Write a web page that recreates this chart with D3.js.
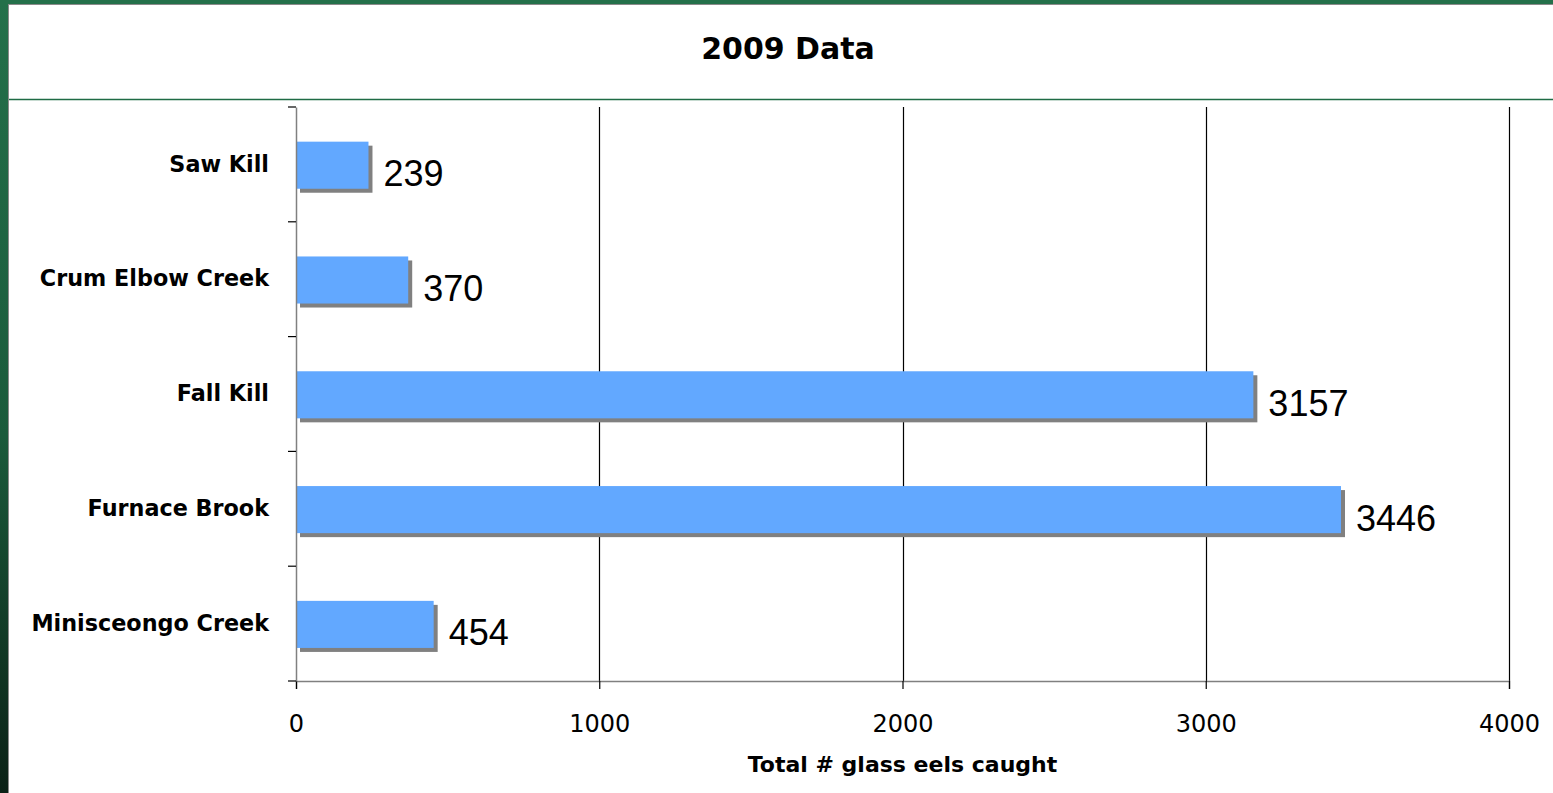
<!DOCTYPE html>
<html>
<head>
<meta charset="utf-8">
<script src="https://cdn.jsdelivr.net/npm/d3@7"></script>
<style>
  body { margin: 0; background: #fff; }
  svg { display: block; }
</style>
</head>
<body>
<div class="chart"></div>
<script>
var svgWidth = 1553;
var svgHeight = 793;

// chart data
var categories = ["Saw Kill", "Crum Elbow Creek", "Fall Kill", "Furnace Brook", "Minisceongo Creek"];
var counts = [239, 370, 3157, 3446, 454];
var xTicks = [0, 1000, 2000, 3000, 4000];

var plot = { left: 296, right: 1509, top: 107, bottom: 681 };

var svg = d3.select(".chart")
  .append("svg")
  .attr("width", svgWidth)
  .attr("height", svgHeight);

// green frame, darker towards the bottom
var defs = svg.append("defs");
var grad = defs.append("linearGradient")
  .attr("id", "frameGrad")
  .attr("x1", 0).attr("y1", 0).attr("x2", 0).attr("y2", 1);
grad.append("stop").attr("offset", "0%").attr("stop-color", "#24704a");
grad.append("stop").attr("offset", "55%").attr("stop-color", "#1b5a3b");
grad.append("stop").attr("offset", "100%").attr("stop-color", "#0b2116");

svg.append("rect")
  .attr("width", svgWidth).attr("height", svgHeight)
  .attr("fill", "url(#frameGrad)");
svg.append("rect")
  .attr("x", 0).attr("y", 0).attr("width", svgWidth).attr("height", 5)
  .attr("fill", "#24704a");

// white chart area with thin grey edge
svg.append("rect")
  .attr("x", 8).attr("y", 4)
  .attr("width", svgWidth - 8).attr("height", svgHeight - 4)
  .attr("fill", "#8a8a8a");
svg.append("rect")
  .attr("x", 9).attr("y", 5)
  .attr("width", svgWidth - 9).attr("height", svgHeight - 5)
  .attr("fill", "#fff");

// title box line
svg.append("line")
  .attr("x1", 9).attr("x2", svgWidth)
  .attr("y1", 99.5).attr("y2", 99.5)
  .attr("stroke", "#1f6b45")
  .attr("stroke-width", 1.5);

svg.append("text")
  .attr("x", 788)
  .attr("y", 59)
  .attr("text-anchor", "middle")
  .style("font-family", "'DejaVu Sans', Verdana, sans-serif")
  .style("font-weight", "bold")
  .style("font-size", "30px")
  .attr("fill", "#000")
  .text("2009 Data");

// scales
var xScale = d3.scaleLinear()
  .domain([0, 4000])
  .range([plot.left, plot.right]);

var yScale = d3.scaleBand()
  .domain(categories)
  .range([plot.top, plot.bottom])
  .paddingInner(0)
  .paddingOuter(0);

var barHeight = yScale.bandwidth() * 0.41;
var barOffset = (yScale.bandwidth() - barHeight) / 2 + 0.8;

// vertical gridlines
svg.append("g")
  .selectAll("line")
  .data(xTicks.filter(d => d > 0))
  .enter()
  .append("line")
  .attr("x1", d => Math.round(xScale(d)) + 0.5)
  .attr("x2", d => Math.round(xScale(d)) + 0.5)
  .attr("y1", plot.top)
  .attr("y2", plot.bottom)
  .attr("stroke", "#000")
  .attr("stroke-width", 1.2);

// bar shadows
svg.append("g")
  .selectAll("rect")
  .data(counts)
  .enter()
  .append("rect")
  .attr("x", xScale(0) + 4)
  .attr("y", (d, i) => yScale(categories[i]) + barOffset + 4)
  .attr("width", d => xScale(d) - xScale(0))
  .attr("height", barHeight)
  .attr("fill", "#808080");

// bars
svg.append("g")
  .selectAll("rect")
  .data(counts)
  .enter()
  .append("rect")
  .attr("x", xScale(0))
  .attr("y", (d, i) => yScale(categories[i]) + barOffset)
  .attr("width", d => xScale(d) - xScale(0))
  .attr("height", barHeight)
  .attr("fill", "#62a8ff");

// value labels
svg.append("g")
  .selectAll("text")
  .data(counts)
  .enter()
  .append("text")
  .attr("x", d => xScale(d) + 15)
  .attr("y", (d, i) => yScale(categories[i]) + barOffset + barHeight / 2 + 21)
  .style("font-family", "'Liberation Sans', Arial, sans-serif")
  .style("font-size", "36px")
  .attr("fill", "#000")
  .text(d => d);

// x axis
var bottomAxis = d3.axisBottom(xScale)
  .tickValues(xTicks)
  .tickSize(8)
  .tickPadding(26)
  .tickFormat(d3.format("d"));

var xAxis = svg.append("g")
  .attr("transform", `translate(0, ${plot.bottom})`)
  .call(bottomAxis);

xAxis.select(".domain")
  .attr("stroke", "#808080")
  .attr("stroke-width", 1.5);
xAxis.selectAll(".tick line")
  .attr("stroke", "#000")
  .attr("stroke-width", 1.2);
xAxis.selectAll(".tick text")
  .style("font-family", "'DejaVu Sans', Verdana, sans-serif")
  .style("font-size", "24px")
  .attr("fill", "#000");

// y axis
var leftAxis = d3.axisLeft(yScale)
  .tickSize(0)
  .tickPadding(27);

var yAxis = svg.append("g")
  .attr("transform", `translate(${plot.left}, 0)`)
  .call(leftAxis);

yAxis.select(".domain")
  .attr("stroke", "#808080")
  .attr("stroke-width", 1.5);
yAxis.selectAll(".tick text")
  .style("font-family", "'DejaVu Sans', Verdana, sans-serif")
  .style("font-weight", "bold")
  .style("font-size", "22.3px")
  .attr("fill", "#000");

// category boundary ticks
var boundaries = categories.map(c => yScale(c)).concat([plot.bottom]);
svg.append("g")
  .selectAll("line")
  .data(boundaries)
  .enter()
  .append("line")
  .attr("x1", plot.left - 8)
  .attr("x2", plot.left)
  .attr("y1", d => d)
  .attr("y2", d => d)
  .attr("stroke", "#000")
  .attr("stroke-width", 1.2);

// axis title
svg.append("text")
  .attr("x", (plot.left + plot.right) / 2)
  .attr("y", 772)
  .attr("text-anchor", "middle")
  .style("font-family", "'DejaVu Sans', Verdana, sans-serif")
  .style("font-weight", "bold")
  .style("font-size", "22px")
  .attr("fill", "#000")
  .text("Total # glass eels caught");
</script>
</body>
</html>
